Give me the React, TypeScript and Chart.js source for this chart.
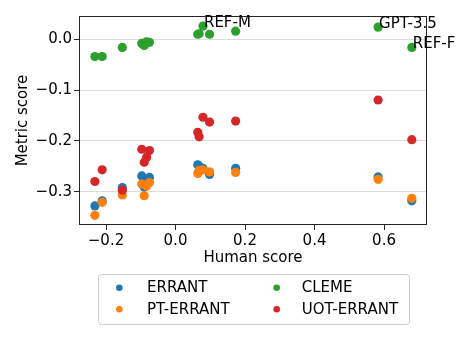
import React, { useEffect, useRef } from "react";
import { Chart, registerables } from "chart.js";

Chart.register(...registerables);

const humanScores = [-0.232, -0.211, -0.153, -0.097, -0.09, -0.083, -0.075, 0.064, 0.068, 0.079, 0.098, 0.173, 0.583, 0.68];
const errant = [-0.328, -0.318, -0.292, -0.269, -0.291, -0.28, -0.272, -0.247, -0.25, -0.254, -0.266, -0.254, -0.271, -0.318];
const ptErrant = [-0.3465, -0.321, -0.3065, -0.285, -0.308, -0.289, -0.282, -0.264, -0.258, -0.257, -0.261, -0.262, -0.2756, -0.313];
const cleme = [-0.034, -0.034, -0.016, -0.008, -0.012, -0.005, -0.006, 0.010, 0.011, 0.026, 0.010, 0.016, 0.024, -0.016];
const uotErrant = [-0.28, -0.257, -0.297, -0.2165, -0.242, -0.232, -0.219, -0.183, -0.192, -0.1535, -0.163, -0.161, -0.1195, -0.1976];
const seriesNames = ["ERRANT", "PT-ERRANT", "CLEME", "UOT-ERRANT"];
const seriesColors = ["#1f77b4", "#ff7f0e", "#2ca02c", "#d62728"];
const annotations = [
  { label: "REF-M", index: 9 },
  { label: "GPT-3.5", index: 12 },
  { label: "REF-F", index: 13 },
];
const xTicks = [-0.2, 0, 0.2, 0.4, 0.6];
const yTicks = [-0.3, -0.2, -0.1, 0];

const FONT = "'DejaVu Sans', sans-serif";
const FS = 15;

export default function App() {
  const ref = useRef<HTMLCanvasElement | null>(null);
  useEffect(() => {
    const canvas = ref.current;
    if (!canvas) return;
    const allSeries = [errant, ptErrant, cleme, uotErrant];
    const datasets = allSeries.map((vals, i) => ({
      label: seriesNames[i],
      data: vals.map((v, j) => ({ x: humanScores[j], y: v })),
      backgroundColor: seriesColors[i],
      borderColor: seriesColors[i],
      borderWidth: 0,
      pointRadius: 4.6,
      pointHoverRadius: 4.6,
      order: 4 - i,
    }));

    const framePlugin = {
      id: "frame",
      afterDatasetsDraw(chart: any) {
        const { ctx, chartArea: a } = chart;
        ctx.save();
        ctx.strokeStyle = "#262626";
        ctx.lineWidth = 1;
        ctx.strokeRect(Math.round(a.left) + 0.5, Math.round(a.top) + 0.5, Math.round(a.right - a.left) - 1, Math.round(a.bottom - a.top) - 1);
        ctx.fillStyle = "#000";
        ctx.font = `${FS}px ${FONT}`;
        ctx.textAlign = "left";
        ctx.textBaseline = "alphabetic";
        const xs = chart.scales.x;
        const ys = chart.scales.y;
        annotations.forEach((an) => {
          const px = xs.getPixelForValue(humanScores[an.index]);
          const py = ys.getPixelForValue(cleme[an.index]);
          ctx.fillText(an.label, px + 1, py + 1);
        });
        const lx = 98, ly = 274, lw = 311, lh = 50;
        ctx.beginPath();
        ctx.roundRect(lx + 0.5, ly + 0.5, lw, lh, 3);
        ctx.fillStyle = "rgba(255,255,255,0.8)";
        ctx.fill();
        ctx.strokeStyle = "#cccccc";
        ctx.stroke();
        const cols = [119.3, 276.7];
        const textCols = [147, 301.7];
        const rows = [287.7, 309.3];
        for (let i = 0; i < 4; i++) {
          const c = i < 2 ? 0 : 1;
          const r = i % 2;
          ctx.beginPath();
          ctx.arc(cols[c], rows[r], 3.3, 0, Math.PI * 2);
          ctx.fillStyle = seriesColors[i];
          ctx.fill();
          ctx.fillStyle = "#000";
          ctx.textBaseline = "middle";
          ctx.fillText(seriesNames[i], textCols[c], rows[r] + 0.5);
        }
        ctx.restore();
      },
    };

    const fmt = (v: any) => (Number(v) < 0 ? "\u2212" : "") + Math.abs(Number(v)).toFixed(1);

    const chart = new Chart(canvas, {
      type: "scatter",
      data: { datasets },
      plugins: [framePlugin],
      options: {
        animation: false,
        responsive: false,
        maintainAspectRatio: false,
        devicePixelRatio: 1,
        layout: { padding: { left: 0, right: 44, top: 16, bottom: 83 } },
        plugins: { legend: { display: false }, tooltip: { enabled: false } },
        scales: {
          x: {
            type: "linear",
            min: -0.2777,
            max: 0.7237,
            afterBuildTicks: (s: any) => {
              s.ticks = xTicks.map((v) => ({ value: v }));
            },
            afterFit: (s: any) => {
              s.height = 45;
            },
            ticks: {
              font: { family: FONT, size: FS },
              color: "#000",
              padding: 2,
              callback: fmt,
            },
            grid: { drawOnChartArea: false, drawTicks: true, tickLength: 5, tickColor: "#262626" },
            border: { display: false },
            title: {
              display: true,
              text: "Human score",
              font: { family: FONT, size: FS },
              color: "#000",
              padding: 3,
            },
          },
          y: {
            type: "linear",
            min: -0.3656,
            max: 0.0459,
            afterBuildTicks: (s: any) => {
              s.ticks = yTicks.map((v) => ({ value: v }));
            },
            afterFit: (s: any) => {
              s.width = 79;
            },
            ticks: {
              font: { family: FONT, size: FS },
              color: "#000",
              padding: 2,
              callback: fmt,
            },
            grid: { color: "#dddddd", lineWidth: 1, drawTicks: true, tickLength: 5, tickColor: "#262626" },
            border: { display: false },
            title: {
              display: true,
              text: "Metric score",
              font: { family: FONT, size: FS },
              color: "#000",
              padding: 14,
            },
          },
        },
      },
    } as any);
    return () => chart.destroy();
  }, []);

  return (
    <div style={{ position: "fixed", left: 0, top: 0, width: 471, height: 353, background: "#fff" }}>
      <canvas ref={ref} width={471} height={353} style={{ width: 471, height: 353, display: "block" }} />
    </div>
  );
}
